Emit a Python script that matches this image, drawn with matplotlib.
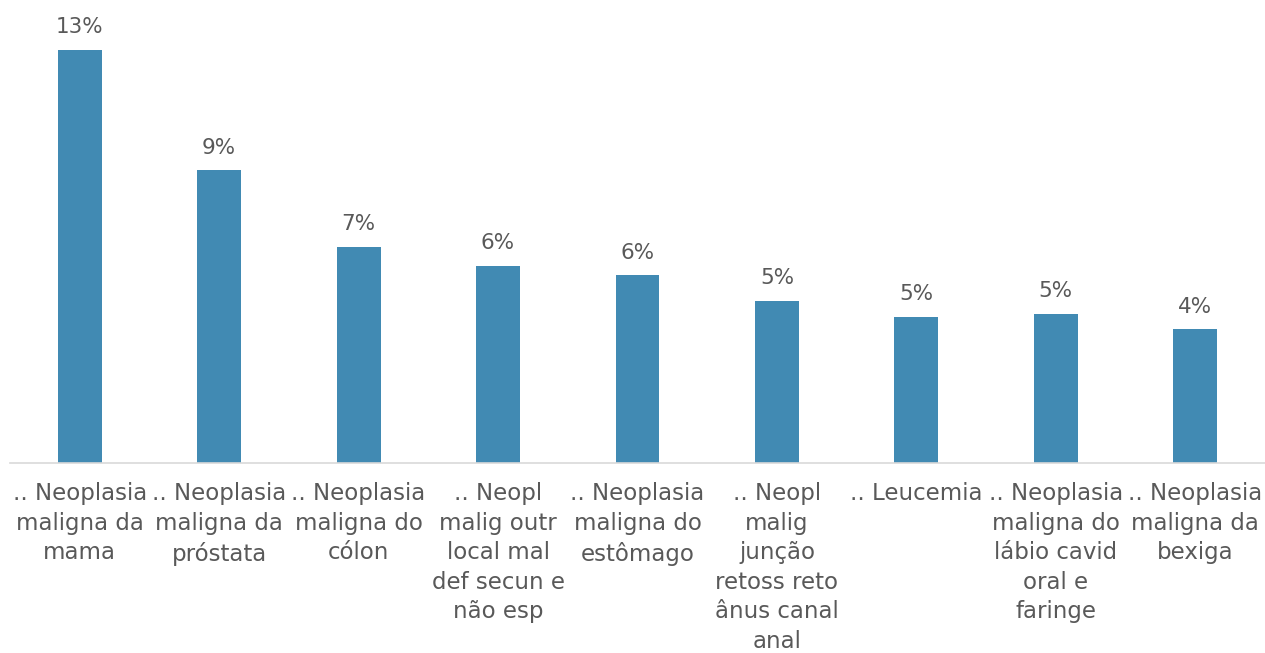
import matplotlib
matplotlib.use('Agg')
import matplotlib.pyplot as plt

# tipos de câncer e participação (%)
categorias = [
    '.. Neoplasia\nmaligna da\nmama',
    '.. Neoplasia\nmaligna da\npróstata',
    '.. Neoplasia\nmaligna do\ncólon',
    '.. Neopl\nmalig outr\nlocal mal\ndef secun e\nnão esp',
    '.. Neoplasia\nmaligna do\nestômago',
    '.. Neopl\nmalig\njunção\nretoss reto\nânus canal\nanal',
    '.. Leucemia',
    '.. Neoplasia\nmaligna do\nlábio cavid\noral e\nfaringe',
    '.. Neoplasia\nmaligna da\nbexiga',
]
percentuais = [13.0, 9.2, 6.8, 6.2, 5.9, 5.1, 4.6, 4.7, 4.2]

cor_barra = '#418AB3'
cor_texto = '#595959'

plt.rcParams['font.family'] = ['DejaVu Sans']

fig = plt.figure(figsize=(12.65, 6.53), dpi=100)
ax = fig.add_axes([10 / 1265, 190 / 653, 1255 / 1265, 453 / 653])

x = range(len(categorias))
barras = ax.bar(x, percentuais, width=0.315, color=cor_barra)

for b, v in zip(barras, percentuais):
    ax.annotate(f'{v:.0f}%', (b.get_x() + b.get_width() / 2, v),
                xytext=(0, 9), textcoords='offset points',
                ha='center', va='bottom', fontsize=15.5, color=cor_texto)

ax.set_xlim(-0.5, len(categorias) - 0.5)
ax.set_ylim(0, 453 / 31.8)
ax.set_xticks(list(x))
ax.set_xticklabels(categorias, fontsize=16.5, color=cor_texto,
                   linespacing=1.36, multialignment='center')
ax.tick_params(axis='x', length=0, pad=14)
ax.set_yticks([])

for s in ['top', 'left', 'right']:
    ax.spines[s].set_visible(False)
ax.spines['bottom'].set_color('#D9D9D9')
ax.spines['bottom'].set_linewidth(1.2)

fig.savefig('out.png', dpi=100)
